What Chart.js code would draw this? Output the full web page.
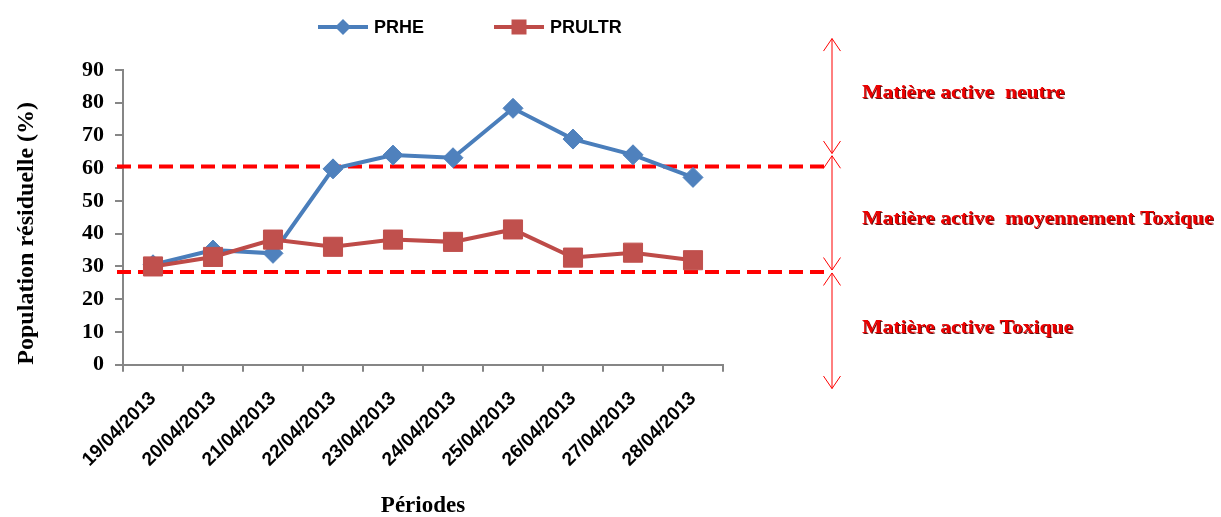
<!DOCTYPE html>
<html><head><meta charset="utf-8">
<script src="https://cdn.jsdelivr.net/npm/chart.js@4.4.0/dist/chart.umd.min.js"></script>
<style>html,body{margin:0;padding:0;background:#fff}</style>
</head><body>
<canvas id="c" width="1221" height="517"></canvas>
<script>
const categories = ['19/04/2013','20/04/2013','21/04/2013','22/04/2013','23/04/2013','24/04/2013','25/04/2013','26/04/2013','27/04/2013','28/04/2013'];
const seriesNames = ['PRHE','PRULTR'];
const prhe   = [30.5, 35, 34, 59.8, 64, 63.2, 78.3, 68.9, 64.1, 57.2];
const prultr = [30, 32.9, 38.2, 36, 38.2, 37.5, 41.3, 32.7, 34.2, 31.9];
const yTicks = [0,10,20,30,40,50,60,70,80,90];
const thresholds = [60.5, 28.3];
const zoneBounds = [[99.6,64.5],[63.8,28.9],[28.0,-7.3]];
const zoneLabels = ['Matière active  neutre','Matière active  moyennement Toxique','Matière active Toxique'];
const zoneLabelValues = [83, 44.4, 11.2];

const BLUE_LINE='#4a7ebb', BLUE_PT='#4f81bd', RED_LINE='#be4b48', RED_PT='#c0504d', GRAY='#868686';

function drawMarker(ctx, kind, x, y, r, color){
  ctx.save(); ctx.fillStyle=color; ctx.beginPath();
  if(kind==='rectRot'){ ctx.moveTo(x-r,y); ctx.lineTo(x,y-r); ctx.lineTo(x+r,y); ctx.lineTo(x,y+r); ctx.closePath(); }
  else { ctx.rect(x-r,y-r,2*r,2*r); }
  ctx.fill(); ctx.restore();
}

const decor = {
  id:'decor',
  beforeDatasetsDraw(chart){
    const {ctx, chartArea:a, scales:{y}} = chart;
    ctx.save();
    ctx.strokeStyle='#ff0000'; ctx.lineWidth=4; ctx.setLineDash([14,7]);
    thresholds.forEach(v=>{
      const py=y.getPixelForValue(v);
      ctx.beginPath(); ctx.moveTo(a.left-6,py); ctx.lineTo(a.right+107,py); ctx.stroke();
    });
    ctx.restore();
  },
  afterDraw(chart){
    const {ctx, chartArea:a, scales:{y}} = chart;
    // legend
    ctx.save();
    ctx.font='bold 18px "Liberation Sans", Arial, sans-serif';
    ctx.textBaseline='middle'; ctx.textAlign='left'; ctx.fillStyle='#000';
    const ly=27; let lx=318;
    const defs=[[BLUE_LINE,BLUE_PT,'rectRot',8],[RED_LINE,RED_PT,'rect',7.5]];
    chart.data.datasets.forEach((ds,i)=>{
      const d=defs[i];
      ctx.strokeStyle=d[0]; ctx.lineWidth=4; ctx.beginPath(); ctx.moveTo(lx,ly); ctx.lineTo(lx+50,ly); ctx.stroke();
      drawMarker(ctx,d[2],lx+25,ly,d[3],d[1]);
      ctx.fillText(ds.label,lx+56,ly+1);
      lx += 56 + ctx.measureText(ds.label).width + 70;
    });
    ctx.restore();
    // zone arrows
    const ax=a.right+109;
    ctx.save(); ctx.strokeStyle='#ff0000'; ctx.lineWidth=1;
    zoneBounds.forEach(([top,bot])=>{
      const t=y.getPixelForValue(top), b=y.getPixelForValue(bot);
      ctx.beginPath(); ctx.moveTo(ax,t); ctx.lineTo(ax,b);
      ctx.moveTo(ax-8.5,t+12.5); ctx.lineTo(ax,t); ctx.lineTo(ax+8.5,t+12.5);
      ctx.moveTo(ax-8.5,b-12.5); ctx.lineTo(ax,b); ctx.lineTo(ax+8.5,b-12.5);
      ctx.stroke();
    });
    ctx.restore();
    // zone labels
    zoneLabels.forEach((t,i)=>{
      ctx.save();
      ctx.font='bold 18px "Liberation Serif", "Times New Roman", serif';
      ctx.textBaseline='middle'; ctx.textAlign='left';
      ctx.fillStyle='#ee0000'; ctx.shadowColor='rgba(90,0,0,0.95)'; ctx.shadowOffsetX=1; ctx.shadowOffsetY=1; ctx.shadowBlur=0;
      ctx.translate(a.right+139, y.getPixelForValue(zoneLabelValues[i]));
      ctx.scale(1.2,1);
      ctx.fillText(t, 0, 0);
      ctx.restore();
    });
  }
};

new Chart(document.getElementById('c'),{
  type:'line',
  data:{labels:categories,datasets:[
    {label:seriesNames[0],data:prhe,order:1,borderColor:BLUE_LINE,backgroundColor:BLUE_PT,borderWidth:4,tension:0,
     pointStyle:'rectRot',pointRadius:10,pointBackgroundColor:BLUE_PT,pointBorderColor:BLUE_PT,pointBorderWidth:1},
    {label:seriesNames[1],data:prultr,order:0,borderColor:RED_LINE,backgroundColor:RED_PT,borderWidth:4,tension:0,
     pointStyle:'rect',pointRadius:13.5,pointBackgroundColor:RED_PT,pointBorderColor:RED_PT,pointBorderWidth:1}
  ]},
  options:{
    responsive:false, animation:false, devicePixelRatio:1,
    layout:{padding:{left:0,right:498,top:70,bottom:-1}},
    plugins:{legend:{display:false},tooltip:{enabled:false}},
    scales:{
      x:{offset:true,
        grid:{display:true,offset:true,drawOnChartArea:false,color:GRAY,lineWidth:2,tickLength:7},
        border:{color:GRAY,width:2},
        ticks:{minRotation:45,maxRotation:45,color:'#000',padding:16,font:{family:'"Liberation Sans", Arial, sans-serif',weight:'bold',size:19}},
        title:{display:true,text:'Périodes',color:'#000',padding:{top:8,bottom:0},font:{family:'"Liberation Serif", "Times New Roman", serif',weight:'bold',size:23,lineHeight:1}}
      },
      y:{min:0,max:90,
        afterBuildTicks:(s)=>{s.ticks=yTicks.map(v=>({value:v}));},
        afterFit:(s)=>{s.width=123;},
        grid:{display:true,drawOnChartArea:false,color:GRAY,lineWidth:2,tickLength:8},
        border:{color:GRAY,width:2},
        ticks:{color:'#000',padding:11,font:{family:'"Liberation Serif", "Times New Roman", serif',weight:'bold',size:22}},
        title:{display:true,text:'Population résiduelle (%)',align:'start',color:'#000',padding:{top:12,bottom:0},font:{family:'"Liberation Serif", "Times New Roman", serif',weight:'bold',size:24}}
      }
    }
  },
  plugins:[decor]
});
</script>
</body></html>
